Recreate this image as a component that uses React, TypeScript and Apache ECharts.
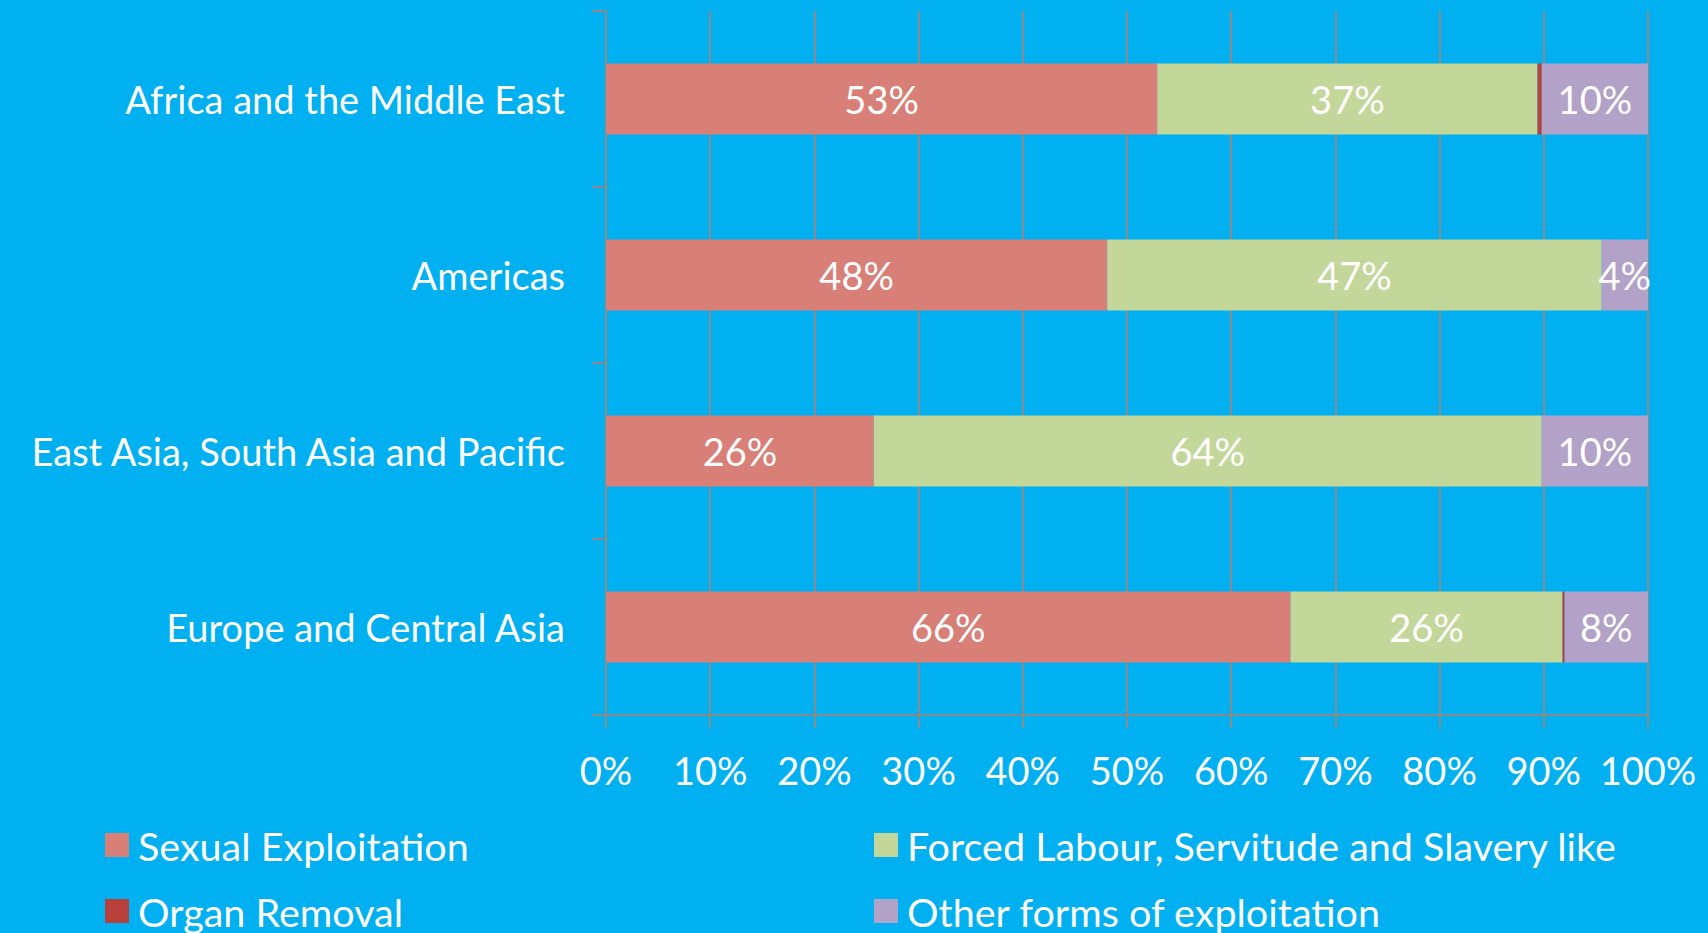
import React, { useEffect, useRef } from "react";
import * as echarts from "echarts";

const regions = [
  "Africa and the Middle East",
  "Americas",
  "East Asia, South Asia and Pacific",
  "Europe and Central Asia",
];
const sexualExploitation = [52.9, 48.1, 25.7, 65.7];
const forcedLabour = [36.5, 47.45, 64.1, 26.1];
const organRemoval = [0.4, 0, 0, 0.2];
const otherForms = [10.2, 4.45, 10.2, 8.0];
const xTicks = [0, 10, 20, 30, 40, 50, 60, 70, 80, 90, 100];

const legendSexual = "Sexual Exploitation";
const legendForced = "Forced Labour, Servitude and Slavery like";
const legendOrgan = "Organ Removal";
const legendOther = "Other forms of exploitation";

const FONT = "Lato";
const FS = 38;
const LFS = 39.5;
const GRID = "#8a8a8a";

export default function App() {
  const ref = useRef<HTMLDivElement>(null);
  useEffect(() => {
    const chart = echarts.init(ref.current!, null, { renderer: "svg" });
    const label = {
      show: true,
      position: "inside",
      color: "#ffffff",
      fontFamily: FONT,
      fontSize: FS,
      formatter: (p: any) => Math.round(p.value) + "%",
    };
    const mk = (name: string, data: number[], color: string, showLabel: boolean) => ({
      name,
      type: "bar",
      stack: "total",
      data,
      barWidth: 71,
      itemStyle: { color },
      label: showLabel ? label : { show: false },
      emphasis: { disabled: true },
    });
    const lg = (name: string, left: number, top: number) => ({
      orient: "horizontal",
      left,
      top,
      padding: 0,
      itemWidth: 24,
      itemHeight: 24,
      itemGap: 0,
      icon: "rect",
      data: [name],
      textStyle: { color: "#ffffff", fontFamily: FONT, fontSize: LFS, padding: [0, 0, 0, 4] },
    });
    chart.setOption({
      animation: false,
      backgroundColor: "#00B0F0",
      grid: { left: 606, right: 60, top: 11, bottom: 218, containLabel: false },
      xAxis: {
        type: "value",
        min: xTicks[0],
        max: xTicks[xTicks.length - 1],
        interval: 10,
        axisLine: { show: true, lineStyle: { color: GRID, width: 2 } },
        axisTick: { show: true, length: 13, lineStyle: { color: GRID, width: 2 } },
        splitLine: { show: true, lineStyle: { color: GRID, width: 2 } },
        axisLabel: {
          color: "#ffffff",
          fontFamily: FONT,
          fontSize: FS,
          margin: 36,
          formatter: (v: number) => v + "%",
        },
      },
      yAxis: {
        type: "category",
        data: regions,
        inverse: true,
        axisLine: { show: true, lineStyle: { color: GRID, width: 2 } },
        axisTick: { show: true, length: 14, lineStyle: { color: GRID, width: 2 } },
        axisLabel: {
          color: "#ffffff",
          fontFamily: FONT,
          fontSize: FS,
          margin: 41,
        },
      },
      legend: [
        lg(legendSexual, 105, 825),
        lg(legendOrgan, 105, 891),
        lg(legendForced, 874, 825),
        lg(legendOther, 874, 891),
      ],
      series: [
        mk(legendSexual, sexualExploitation, "#D87F78", true),
        mk(legendForced, forcedLabour, "#C4D79B", true),
        mk(legendOrgan, organRemoval, "#B7403B", false),
        mk(legendOther, otherForms, "#B3A2C7", true),
      ],
    });
    return () => chart.dispose();
  }, []);
  return (
    <div
      ref={ref}
      style={{ position: "fixed", left: 0, top: 0, width: 1708, height: 933 }}
    />
  );
}
